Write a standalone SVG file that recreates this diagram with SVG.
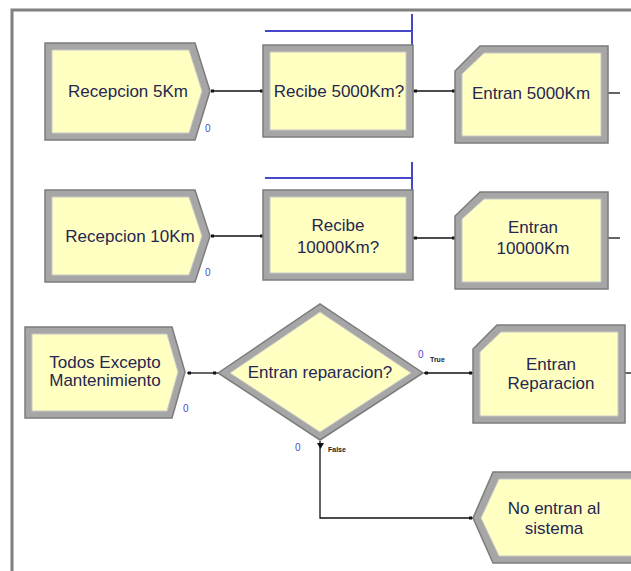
<svg xmlns="http://www.w3.org/2000/svg" width="631" height="571" viewBox="0 0 631 571">
  <style>
    .outer { fill: #a6a6a6; stroke: #7c7c7c; stroke-width: 1.5; }
    .inner { fill: #ffffc2; stroke: #c8c8c8; stroke-width: 1; }
    .lbl { font-family: "Liberation Sans", Arial, sans-serif; font-size: 17px; fill: #262650; text-anchor: middle; }
    .cnt { font-family: "Liberation Sans", Arial, sans-serif; font-size: 10px; fill: #4a4ac8; }
    .tiny { font-family: "Liberation Sans", Arial, sans-serif; font-size: 7px; fill: #222; font-weight: bold; }
    .conn { fill: none; stroke: #111; stroke-width: 1.3; }
    .dot { fill: #111; }
    .blue { fill: none; stroke: #4646c8; stroke-width: 2; }
  </style>

  <!-- canvas frame -->
  <rect x="0" y="0" width="631" height="571" fill="#ffffff"/>
  <path d="M12,571 V10 H631" fill="none" stroke="#808080" stroke-width="3"/>

  <!-- connectors -->
  <g id="connectors">
    <path class="conn" d="M211,91 H263"/>
    <path class="conn" d="M413,91 H455"/>
    <path class="conn" d="M608,93 H620"/>
    <path class="conn" d="M211,236 H263"/>
    <path class="conn" d="M413,238 H455"/>
    <path class="conn" d="M608,238 H620"/>
    <path class="conn" d="M187,373 H218"/>
    <path class="conn" d="M424,373 H473"/>
    <path class="conn" d="M625,373 H631"/>
    <path class="conn" d="M320,441 V518 H474"/>
    <rect class="dot" x="211" y="89.5" width="3" height="3"/>
    <rect class="dot" x="260" y="89.5" width="3" height="3"/>
    <rect class="dot" x="414" y="89.5" width="3" height="3"/>
    <rect class="dot" x="452" y="89.5" width="3" height="3"/>
    <rect class="dot" x="211" y="234.5" width="3" height="3"/>
    <rect class="dot" x="260" y="234.5" width="3" height="3"/>
    <rect class="dot" x="414" y="236.5" width="3" height="3"/>
    <rect class="dot" x="452" y="236.5" width="3" height="3"/>
    <rect class="dot" x="188" y="371.5" width="3" height="3"/>
    <rect class="dot" x="213" y="371.5" width="3" height="3"/>
    <rect class="dot" x="425" y="371.5" width="3" height="3"/>
    <rect class="dot" x="469" y="371.5" width="3" height="3"/>
    <rect class="dot" x="469" y="516.5" width="3" height="3"/>
    <path class="dot" d="M317,443 H324 L320.5,449 Z"/>
  </g>

  <!-- Create: Recepcion 5Km -->
  <g id="recepcion5">
    <path class="outer" d="M45,43 H195 L210,91 L195,140 H45 Z"/>
    <path class="inner" d="M52,50 H189 L202,91 L189,133 H52 Z"/>
    <text class="lbl" x="128" y="97">Recepcion 5Km</text>
    <text class="cnt" x="205" y="132">0</text>
  </g>

  <!-- Decide: Recibe 5000Km? -->
  <g id="recibe5000">
    <path class="blue" d="M265,31 H412 M412,14 V45"/>
    <rect class="outer" x="263" y="45" width="150" height="92"/>
    <rect class="inner" x="270" y="52" width="136" height="78"/>
    <text class="lbl" x="339" y="97">Recibe 5000Km?</text>
  </g>

  <!-- Assign: Entran 5000Km -->
  <g id="entran5000">
    <path class="outer" d="M480,46 H608 V143 H455 V71 Z"/>
    <path class="inner" d="M484,53 H601 V136 H462 V74 Z"/>
    <text class="lbl" x="531" y="99">Entran 5000Km</text>
  </g>

  <!-- Create: Recepcion 10Km -->
  <g id="recepcion10">
    <path class="outer" d="M45,190 H195 L210,236 L195,282 H45 Z"/>
    <path class="inner" d="M52,197 H189 L202,236 L189,275 H52 Z"/>
    <text class="lbl" x="130" y="242">Recepcion 10Km</text>
    <text class="cnt" x="205" y="276">0</text>
  </g>

  <!-- Decide: Recibe 10000Km? -->
  <g id="recibe10000">
    <path class="blue" d="M265,178 H412 M412,162 V190"/>
    <rect class="outer" x="263" y="190" width="150" height="90"/>
    <rect class="inner" x="270" y="197" width="136" height="76"/>
    <text class="lbl" x="338" y="231">Recibe</text>
    <text class="lbl" x="338" y="253">10000Km?</text>
  </g>

  <!-- Assign: Entran 10000Km -->
  <g id="entran10000">
    <path class="outer" d="M480,192 H608 V289 H455 V216 Z"/>
    <path class="inner" d="M484,199 H601 V282 H462 V219 Z"/>
    <text class="lbl" x="533" y="233">Entran</text>
    <text class="lbl" x="533" y="254">10000Km</text>
  </g>

  <!-- Create: Todos Excepto Mantenimiento -->
  <g id="todos">
    <path class="outer" d="M25,327 H172 L185,372 L172,418 H25 Z"/>
    <path class="inner" d="M32,334 H167 L178,372 L167,411 H32 Z"/>
    <text class="lbl" x="105" y="368">Todos Excepto</text>
    <text class="lbl" x="105" y="386">Mantenimiento</text>
    <text class="cnt" x="183" y="412">0</text>
  </g>

  <!-- Decide: Entran reparacion? -->
  <g id="entranReparacionDecide">
    <path class="outer" d="M218,373 L320,304 L423,373 L320,440 Z"/>
    <path class="inner" d="M230,373 L320,312 L411,373 L320,432 Z"/>
    <text class="lbl" x="320" y="378">Entran reparacion?</text>
    <text class="cnt" x="418" y="358">0</text>
    <text class="tiny" x="430" y="362">True</text>
    <text class="cnt" x="295" y="451">0</text>
    <text class="tiny" x="328" y="452">False</text>
  </g>

  <!-- Assign: Entran Reparacion -->
  <g id="entranReparacion">
    <path class="outer" d="M497,325 H625 V423 H473 V349 Z"/>
    <path class="inner" d="M501,332 H618 V416 H480 V352 Z"/>
    <text class="lbl" x="551" y="370">Entran</text>
    <text class="lbl" x="551" y="389">Reparacion</text>
  </g>

  <!-- Dispose: No entran al sistema -->
  <g id="noEntran">
    <path class="outer" d="M493,472 H640 V563 H493 L473,518 Z"/>
    <path class="inner" d="M499,479 H640 V556 H499 L481,518 Z"/>
    <text class="lbl" x="554" y="514">No entran al</text>
    <text class="lbl" x="554" y="534">sistema</text>
  </g>
</svg>
